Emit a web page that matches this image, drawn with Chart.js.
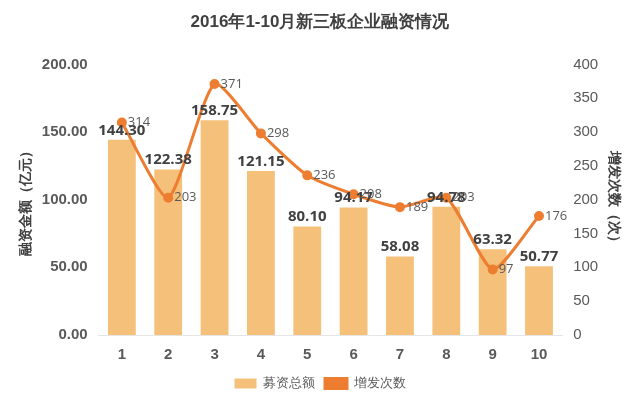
<!DOCTYPE html>
<html><head><meta charset="utf-8">
<script src="https://cdn.jsdelivr.net/npm/chart.js@4"></script>
<style>body{margin:0;background:#fff}#w{width:640px;height:400px}</style>
</head><body><div id="w"><canvas id="c"></canvas></div>
<script>
const months = ['1','2','3','4','5','6','7','8','9','10'];
const amounts = [144.30, 122.38, 158.75, 121.15, 80.10, 94.17, 58.08, 94.78, 63.32, 50.77];
const counts = [314, 203, 371, 298, 236, 208, 189, 203, 97, 176];

const labelPlugin = {
  id: 'labels',
  afterDatasetsDraw(chart) {
    const ctx = chart.ctx;
    ctx.save();
    chart.getDatasetMeta(0).data.forEach((b, i) => {
      ctx.font = 'bold 15px "Open Sans", sans-serif';
      ctx.fillStyle = '#404040';
      ctx.textAlign = 'center';
      ctx.textBaseline = 'bottom';
      ctx.fillText(amounts[i].toFixed(2), b.x, b.y - 2);
    });
    chart.getDatasetMeta(1).data.forEach((p, i) => {
      ctx.font = '13px "Open Sans", sans-serif';
      ctx.fillStyle = '#595959';
      ctx.textAlign = 'left';
      ctx.textBaseline = 'middle';
      ctx.fillText(counts[i], p.x + 6, p.y);
    });
    ctx.restore();
  }
};

new Chart(document.getElementById('c'), {
  data: {
    labels: months,
    datasets: [
      { type: 'bar', label: '募资总额', data: amounts, backgroundColor: '#f5c07a', yAxisID: 'y', barPercentage: 0.6, categoryPercentage: 1, order: 2 },
      { type: 'line', label: '增发次数', data: counts, borderColor: '#ed7d31', backgroundColor: '#ed7d31', borderWidth: 3, pointRadius: 3.5, tension: 0.2, yAxisID: 'y1', order: 1 }
    ]
  },
  options: {
    responsive: true, maintainAspectRatio: false, animation: false,
    layout: { padding: { left: 14, right: 14, top: 4 } },
    plugins: {
      title: { display: true, text: '2016年1-10月新三板企业融资情况', color: '#404040', font: { size: 17, weight: 'bold' }, padding: { top: 8, bottom: 32 } },
      legend: { position: 'bottom', labels: { color: '#595959', font: { size: 13 }, boxWidth: 22, boxHeight: 10, sort: (a, b) => a.datasetIndex - b.datasetIndex } },
      tooltip: { enabled: false }
    },
    scales: {
      x: { grid: { display: false }, ticks: { color: '#595959', font: { size: 15, weight: 'bold' } } },
      y: { position: 'left', min: 0, max: 200, ticks: { stepSize: 50, color: '#595959', font: { size: 15, weight: 'bold' }, callback: v => v.toFixed(2) }, grid: { display: false }, border: { display: false },
           title: { display: true, text: '融资金额（亿元）', color: '#404040', font: { size: 14, weight: 'bold' } } },
      y1: { position: 'right', min: 0, max: 400, ticks: { stepSize: 50, color: '#595959', font: { size: 15 } }, grid: { display: false }, border: { display: false },
            title: { display: true, text: '增发次数（次）', color: '#404040', font: { size: 14, weight: 'bold' } } }
    }
  },
  plugins: [labelPlugin]
});
</script></body></html>
